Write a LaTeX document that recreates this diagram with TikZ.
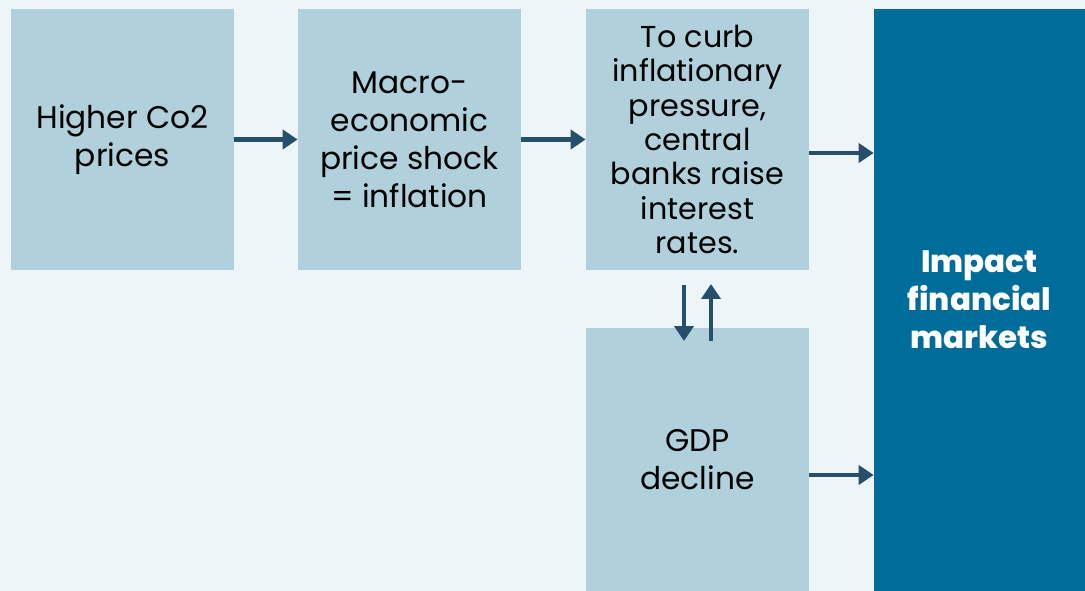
\documentclass[tikz,border=0pt]{standalone}
\usepackage{fontspec}
\setmainfont{Poppins}
\newfontfamily\heavyfont{Poppins ExtraBold}
\usetikzlibrary{arrows.meta}
\definecolor{bgpale}{HTML}{EEF5F8}
\definecolor{boxlight}{HTML}{B0D0DC}
\definecolor{boxdark}{HTML}{006C9A}
\definecolor{arrowdark}{HTML}{264F6B}
\tikzset{
  stepbox/.style={fill=boxlight, draw=none, inner sep=0pt, align=center,
    minimum width=4.46cm, font=\fontsize{17.8}{21.6}\selectfont, text=black},
  densebox/.style={stepbox, font=\fontsize{17.2}{19.6}\selectfont},
  finalbox/.style={fill=boxdark, draw=none, inner sep=0pt, align=center,
    minimum width=4.22cm, minimum height=11.64cm,
    font=\fontsize{17.6}{21.6}\selectfont\heavyfont, text=white},
  flow/.style={draw=arrowdark, line width=2.3pt,
    -{Triangle[length=0.3cm,width=0.38cm]}}
}
\begin{document}
\begin{tikzpicture}[x=0.02cm,y=-0.02cm]
  \fill[bgpale] (0,0) rectangle (1085,591);
  \useasboundingbox (0,0) rectangle (1085,591);
  \node[stepbox, minimum height=5.22cm] (co2) at (122.5,139.5) {Higher Co2\\prices};
  \node[stepbox, minimum height=5.22cm] (macro) at (409.5,139.5) {Macro-\\economic\\price shock\\= inflation};
  \node[densebox, minimum height=5.22cm] (banks) at (697.5,139.5) {To curb\\inflationary\\pressure,\\central\\banks raise\\interest\\rates.};
  \node[stepbox, minimum height=5.26cm] (gdp) at (697.5,459.5) {GDP\\decline};
  \node[finalbox] (impact) at (979.5,300) {Impact\\financial\\markets};
  \draw[flow] (co2.east) -- (macro.west);
  \draw[flow] (macro.east) -- (banks.west);
  \draw[flow] (banks.east |- 0,153) -- (impact.west |- 0,153);
  \draw[flow] (gdp.east |- 0,475) -- (impact.west |- 0,475);
  \coordinate (downtop) at (684,285);
  \coordinate (downend) at (684,341);
  \coordinate (uptop) at (711,284);
  \coordinate (upend) at (711,341);
  \draw[flow] (downtop) -- (downend);
  \draw[flow] (upend) -- (uptop);
\end{tikzpicture}
\end{document}
